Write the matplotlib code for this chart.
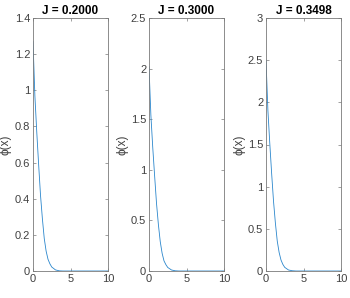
import matplotlib

matplotlib.use('Agg')
import matplotlib.pyplot as plt

plt.rcParams['font.family'] = ['Liberation Sans', 'DejaVu Sans']

# values
x = [0, 0.25, 0.5, 0.75, 1.0, 1.25, 1.5, 1.75, 2.0, 2.25, 2.5, 3.0, 3.5, 4.0, 10.0]
phi_1 = [1.27, 0.97, 0.77, 0.59, 0.42, 0.29, 0.18, 0.11, 0.065, 0.04, 0.022, 0.006, 0.001, 0, 0]
phi_2 = [2.02, 1.54, 1.22, 0.94, 0.67, 0.46, 0.29, 0.175, 0.10, 0.063, 0.035, 0.01, 0.002, 0, 0]
phi_3 = [2.50, 1.91, 1.52, 1.16, 0.83, 0.57, 0.355, 0.22, 0.13, 0.078, 0.043, 0.012, 0.003, 0, 0]
titles = ['J = 0.2000', 'J = 0.3000', 'J = 0.3498']
ymax = [1.4, 2.5, 3]
yticks = [[0, 0.2, 0.4, 0.6, 0.8, 1, 1.2, 1.4],
          [0, 0.5, 1, 1.5, 2, 2.5],
          [0, 0.5, 1, 1.5, 2, 2.5, 3]]
series = [phi_1, phi_2, phi_3]

fig = plt.figure(figsize=(3.5, 2.98), dpi=100)
lefts = [33 / 350, 149 / 350, 266 / 350]
labcol = '#404040'
axcol = '#7a7a7a'

for i in range(3):
    ax = fig.add_axes([lefts[i], 27 / 298, 75 / 350, 253 / 298])
    ax.plot(x, series[i], color='#2a86cc', lw=0.6)
    ax.set_xlim(0, 10)
    ax.set_ylim(0, ymax[i])
    ax.set_xticks([0, 5, 10])
    ax.set_yticks(yticks[i])
    ax.set_yticklabels([('%g' % v) for v in yticks[i]])
    ax.tick_params(direction='in', length=2.5, width=0.5, color=axcol,
                   labelcolor=labcol, labelsize=8, top=True, right=True, pad=2)
    for s in ax.spines.values():
        s.set_color(axcol)
        s.set_linewidth(0.6)
    ax.set_title(titles[i], fontsize=8.5, fontweight='bold', pad=3)
    ax.set_ylabel('\u03d5(x)', fontsize=8.5, color=labcol, labelpad=2)

plt.savefig('out.png', dpi=100, facecolor='w')
